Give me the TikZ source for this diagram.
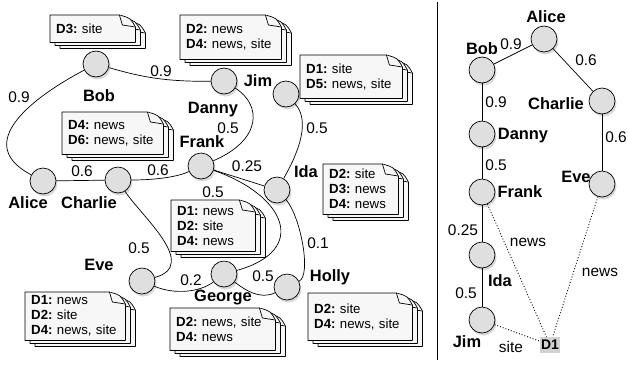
\documentclass[tikz,border=0pt]{standalone}
\usepackage{fontspec}
\setmainfont{Liberation Sans}
\usetikzlibrary{shadows,backgrounds}
\frenchspacing

\tikzset{
  person/.style={circle, draw, fill=gray!25, minimum size=26bp, inner sep=0pt, line width=0.7bp,
    drop shadow={shadow xshift=1.5bp, shadow yshift=-2.5bp, opacity=0.3}},
  who/.style={font=\fontsize{16.5}{18}\selectfont\bfseries, inner sep=0pt},
  num/.style={font=\fontsize{15.5}{17}\selectfont, inner sep=0pt},
  doc/.style 2 args={anchor=north west, text width=#1, minimum height=#2, inner xsep=6bp,
    inner ysep=0pt, align=left, font=\fontsize{13.3}{15}\selectfont},
  paper/.style={draw, fill=gray!6, line width=0.7bp, line join=round},
  tie/.style={line width=0.7bp},
  hint/.style={dotted, line width=0.9bp},
  docid/.style={fill=gray!35, font=\fontsize{14}{15}\selectfont\bfseries, inner xsep=1bp,
    inner ysep=0pt, minimum height=16bp},
}

% three sheets with a folded corner, behind the node
\newcommand{\paperstack}[1]{%
  \begin{pgfonlayer}{background}
    \foreach \o in {2,1,0}{
      \draw[paper]
        ([shift={(\o*5bp,-\o*3bp)}]#1.south west) --
        ([shift={(\o*5bp,-\o*3bp)}]#1.south east) --
        ([shift={(\o*5bp,-\o*3bp-12bp)}]#1.north east) ..
        controls ([shift={(\o*5bp-5bp,-\o*3bp-3bp)}]#1.north east) ..
        ([shift={(\o*5bp-16bp,-\o*3bp)}]#1.north east) --
        ([shift={(\o*5bp,-\o*3bp)}]#1.north west) -- cycle;
      \draw[paper]
        ([shift={(\o*5bp-16bp,-\o*3bp)}]#1.north east) --
        ([shift={(\o*5bp-13bp,-\o*3bp-10bp)}]#1.north east) --
        ([shift={(\o*5bp,-\o*3bp-12bp)}]#1.north east);
    }
  \end{pgfonlayer}}

\begin{document}
\begin{tikzpicture}[x=1bp, y=-1bp]
\useasboundingbox (0,0) rectangle (628,365);

% documents
\node[doc={73bp}{27bp}] (dBob) at (50,15) {\textbf{D3:} site};
\node[doc={89bp}{44bp}] (dDanny) at (180,15) {\textbf{D2:} news\\\textbf{D4:} news, site};
\node[doc={90bp}{43bp}] (dJim) at (300,55) {\textbf{D1:} site\\\textbf{D5:} news, site};
\node[doc={89bp}{42bp}] (dCharlie) at (62,112) {\textbf{D4:} news\\\textbf{D6:} news, site};
\node[doc={63bp}{50bp}] (dIda) at (323,164) {\textbf{D2:} site\\\textbf{D3:} news\\\textbf{D4:} news};
\node[doc={72bp}{51bp}] (dFrank) at (171,200) {\textbf{D1:} news\\\textbf{D2:} site\\\textbf{D4:} news};
\node[doc={88bp}{48bp}] (dEve) at (25,292) {\textbf{D1:} news\\\textbf{D2:} site\\\textbf{D4:} news, site};
\node[doc={93bp}{42bp}] (dGeorge) at (170,308) {\textbf{D2:} news, site\\\textbf{D4:} news};
\node[doc={92bp}{47bp}] (dHolly) at (308,293) {\textbf{D2:} site\\\textbf{D4:} news, site};
\paperstack{dBob}
\paperstack{dDanny}
\paperstack{dJim}
\paperstack{dCharlie}
\paperstack{dIda}
\paperstack{dFrank}
\paperstack{dEve}
\paperstack{dGeorge}
\paperstack{dHolly}

% social graph
\node[person] (Bob) at (96,64) {};
\node[person] (Danny) at (224,81) {};
\node[person] (Jim) at (286,94) {};
\node[person] (Frank) at (201,166) {};
\node[person] (Ida) at (277,190) {};
\node[person] (Alice) at (43,181) {};
\node[person] (Charlie) at (118,180) {};
\node[person] (Eve) at (142,281) {};
\node[person] (George) at (224,274) {};
\node[person] (Holly) at (287,287) {};

\node[who] (lBob) at (99,96) {Bob};
\node[who] (lDanny) at (213,110) {Danny};
\node[who] (lJim) at (258,81) {Jim};
\node[who] (lFrank) at (202,142) {Frank};
\node[who] (lIda) at (306,172) {Ida};
\node[who] (lAlice) at (28,203) {Alice};
\node[who] (lCharlie) at (89,203) {Charlie};
\node[who] (lEve) at (99,265) {Eve};
\node[who] (lGeorge) at (223,297) {George};
\node[who] (lHolly) at (330,277) {Holly};

\draw[tie] (Bob) .. controls (50,88) and (-35,140) .. (Alice) node[num] at (19,97) {0.9};
\draw[tie] (Bob) .. controls (135,75) and (160,82) .. (Danny) node[num] at (161,71) {0.9};
\draw[tie] (Alice) -- (Charlie) node[num] at (82,171) {0.6};
\draw[tie] (Charlie) .. controls (150,180) and (175,178) .. (Frank) node[num] at (158,170) {0.6};
\draw[tie] (Danny) .. controls (262,105) and (262,140) .. (Frank) node[num] at (228,128) {0.5};
\draw[tie] (Jim) .. controls (310,120) and (300,150) .. (Ida) node[num] at (317,128) {0.5};
\draw[tie] (Frank) -- (Ida) node[num] at (247,166) {0.25};
\draw[tie] (Frank) .. controls (285,195) and (310,250) .. (George) node[num] at (213,192) {0.5};
\draw[tie] (Charlie) .. controls (140,215) and (200,265) .. (Eve) node[num] at (139,248) {0.5};
\draw[tie] (Eve) .. controls (175,295) and (200,292) .. (George) node[num] at (191,280) {0.2};
\draw[tie] (George) .. controls (245,290) and (260,300) .. (Holly) node[num] at (263,276) {0.5};
\draw[tie] (Ida) .. controls (300,215) and (312,275) .. (Holly) node[num] at (318,243) {0.1};

\draw[tie] (437,2) -- (437,360);

% tree for D1
\node[person] (tAlice) at (544,39) {};
\node[person] (tBob) at (482,70) {};
\node[person] (tCharlie) at (602,101) {};
\node[person] (tDanny) at (482,134) {};
\node[person] (tEve) at (602,184) {};
\node[person] (tFrank) at (482,192) {};
\node[person] (tIda) at (482,255) {};
\node[person] (tJim) at (482,320) {};
\node[docid] (tD1) at (550,345) {D1};

\node[who] (tlAlice) at (546,17) {Alice};
\node[who] (tlBob) at (482,49) {Bob};
\node[who] (tlCharlie) at (556,104) {Charlie};
\node[who] (tlDanny) at (523,136) {Danny};
\node[who] (tlEve) at (576,177) {Eve};
\node[who] (tlFrank) at (520,192) {Frank};
\node[who] (tlIda) at (500,281) {Ida};
\node[who] (tlJim) at (467,342) {Jim};

\draw[tie] (tAlice) -- (tBob) node[num] at (511,44) {0.9};
\draw[tie] (tAlice) -- (tCharlie) node[num] at (586,60) {0.6};
\draw[tie] (tBob) -- (tDanny) node[num] at (496,102) {0.9};
\draw[tie] (tCharlie) -- (tEve) node[num] at (616,137) {0.6};
\draw[tie] (tDanny) -- (tFrank) node[num] at (496,165) {0.5};
\draw[tie] (tFrank) -- (tIda) node[num] at (463,230) {0.25};
\draw[tie] (tIda) -- (tJim) node[num] at (466,293) {0.5};
\draw[hint] (tFrank) -- (tD1) node[num] at (528,242) {news};
\draw[hint] (tEve) -- (tD1) node[num] at (600,272) {news};
\draw[hint] (tJim) -- (tD1) node[num] at (511,347) {site};
\end{tikzpicture}
\end{document}
